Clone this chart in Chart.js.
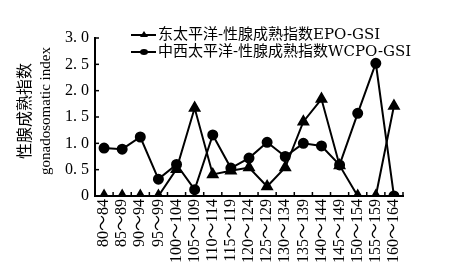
<!DOCTYPE html>
<html>
<head>
<meta charset="utf-8">
<script src="https://cdn.jsdelivr.net/npm/chart.js@4/dist/chart.umd.min.js"></script>
<style>
  html, body { margin: 0; padding: 0; background: #fff; }
  #wrap { width: 449px; height: 274px; }
</style>
</head>
<body>
<div id="wrap"><canvas id="gsiChart" width="449" height="274"></canvas></div>
<script>
// categories (fork length groups) and GSI values
const sizeGroups = ['80～84', '85～89', '90～94', '95～99', '100～104', '105～109', '110～114', '115～119',
    '120～124', '125～129', '130～134', '135～139', '140～144', '145～149', '150～154', '155～159', '160～164'];
const epoGsi = [0, 0, 0, 0, 0.51, 1.67, 0.41, 0.48, 0.54, 0.18, 0.54, 1.41, 1.84, 0.58, 0, 0, 1.71];
const wcpoGsi = [0.91, 0.89, 1.12, 0.32, 0.6, 0.12, 1.16, 0.53, 0.72, 1.02, 0.75, 1.0, 0.95, 0.59, 1.57, 2.52, 0];
const yTickLabels = ['0', '0. 5', '1. 0', '1. 5', '2. 0', '2. 5', '3. 0'];
const seriesNames = ['东太平洋-性腺成熟指数EPO-GSI', '中西太平洋-性腺成熟指数WCPO-GSI'];
const yTitle = ['性腺成熟指数', 'gonadosomatic index'];

const serif = '"Liberation Serif", "Noto Sans CJK SC", serif';
const legendFont = '15px "DejaVu Serif", "Noto Sans CJK SC", serif';

// inward tick marks, y title and the legend
const extras = {
    id: 'extras',
    afterDraw(chart) {
        const ctx = chart.ctx;
        const xs = chart.scales.x, ys = chart.scales.y;
        ctx.save();
        ctx.strokeStyle = '#000';
        ctx.fillStyle = '#000';
        ctx.lineWidth = 1.5;
        ys.ticks.forEach(t => {
            const y = ys.getPixelForValue(t.value);
            ctx.beginPath();
            ctx.moveTo(xs.left, y);
            ctx.lineTo(xs.left + 4, y);
            ctx.stroke();
        });
        const step = xs.getPixelForValue(1) - xs.getPixelForValue(0);
        for (let i = 0; i <= sizeGroups.length; i++) {
            const x = xs.getPixelForValue(0) + (i - 0.5) * step;
            ctx.beginPath();
            ctx.moveTo(x, ys.bottom);
            ctx.lineTo(x, ys.bottom - 4);
            ctx.stroke();
        }

        // y title, two lines of different size
        ctx.textAlign = 'center';
        ctx.textBaseline = 'middle';
        ctx.save();
        ctx.translate(26, 111);
        ctx.rotate(-Math.PI / 2);
        ctx.font = '16px ' + serif;
        ctx.fillText(yTitle[0], 0, 0);
        ctx.restore();
        ctx.save();
        ctx.translate(46, 111);
        ctx.rotate(-Math.PI / 2);
        ctx.font = '15px ' + serif;
        ctx.fillText(yTitle[1], 0, 0);
        ctx.restore();

        // legend
        const lx = 131, rows = [35, 52];
        ctx.textAlign = 'left';
        chart.data.datasets.forEach((ds, i) => {
            const y = rows[i];
            ctx.lineWidth = 2;
            ctx.beginPath();
            ctx.moveTo(lx, y);
            ctx.lineTo(lx + 25, y);
            ctx.stroke();
            ctx.beginPath();
            if (ds.pointStyle === 'triangle') {
                ctx.moveTo(lx + 13, y - 4);
                ctx.lineTo(lx + 17, y + 2);
                ctx.lineTo(lx + 9, y + 2);
                ctx.closePath();
            } else {
                ctx.ellipse(lx + 13, y, 4, 3, 0, 0, Math.PI * 2);
            }
            ctx.fill();
            ctx.font = legendFont;
            ctx.fillText(ds.label, lx + 27, y);
        });
        ctx.restore();
    }
};

const gsiChart = new Chart(document.getElementById('gsiChart').getContext('2d'), {
    type: 'line',
    data: {
        labels: sizeGroups,
        datasets: [{
            label: seriesNames[0],
            data: epoGsi,
            borderColor: '#000',
            backgroundColor: '#000',
            borderWidth: 2,
            pointStyle: 'triangle',
            pointRadius: 5.5,
            tension: 0
        }, {
            label: seriesNames[1],
            data: wcpoGsi,
            borderColor: '#000',
            backgroundColor: '#000',
            borderWidth: 2,
            pointStyle: 'circle',
            pointRadius: 4.5,
            tension: 0
        }]
    },
    options: {
        responsive: false,
        animation: false,
        layout: { padding: { left: 10, right: 46, top: 38, bottom: 0 } },
        plugins: {
            legend: { display: false },
            tooltip: { enabled: false }
        },
        scales: {
            x: {
                offset: true,
                grid: { display: false, drawTicks: false },
                border: { color: '#000', width: 2 },
                ticks: {
                    color: '#000',
                    font: { family: serif, size: 16 },
                    maxRotation: 90,
                    minRotation: 90,
                    autoSkip: false,
                    padding: 3
                },
                afterFit(s) { s.height = 78; }
            },
            y: {
                min: 0,
                max: 3,
                grid: { display: false, drawTicks: false },
                border: { color: '#000', width: 2 },
                ticks: {
                    stepSize: 0.5,
                    color: '#000',
                    padding: 6,
                    font: { family: serif, size: 16 },
                    callback: (v, i) => yTickLabels[i]
                },
                afterFit(s) { s.width = 85; }
            }
        }
    },
    plugins: [extras]
});
</script>
</body>
</html>
